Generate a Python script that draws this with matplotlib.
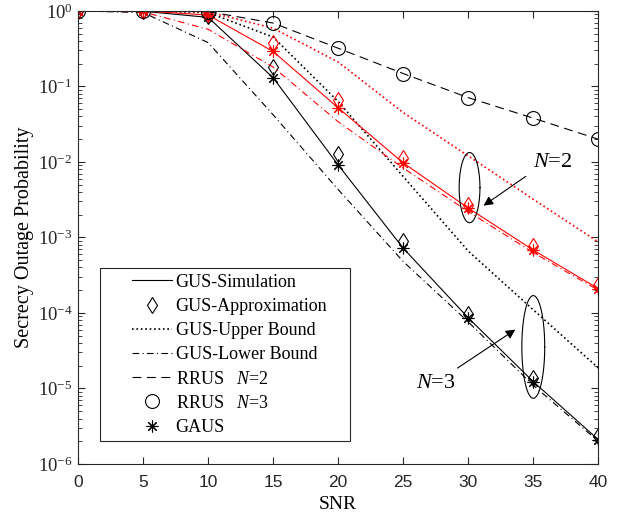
import numpy as np
import matplotlib
matplotlib.use('Agg')
import matplotlib.pyplot as plt
from matplotlib.lines import Line2D
from matplotlib.patches import Rectangle

plt.rcParams['font.family'] = 'Liberation Serif'
plt.rcParams['mathtext.fontset'] = 'custom'
plt.rcParams['mathtext.rm'] = 'Liberation Sans'
plt.rcParams['mathtext.it'] = 'Liberation Serif:italic'

snr = [0, 5, 10, 15, 20, 25, 30, 35, 40]

# N=3 (black)
sim3 = [1.0, 0.99, 0.82, 0.13, 0.0091, 7.2e-4, 8.6e-5, 1.23e-5, 2.1e-6]
approx3 = [1.0, 0.99, 0.85, 0.18, 0.0128, 8.9e-4, 9.7e-5, 1.38e-5, 2.35e-6]
upper3 = [1.0, 1.0, 0.95, 0.45, 0.063, 0.0064, 6.6e-4, 1.1e-4, 1.87e-5]
lower3 = [1.0, 0.95, 0.38, 0.042, 0.0043, 4.8e-4, 7.6e-5, 1.1e-5, 2.0e-6]

# N=2 (red)
sim2 = [1.0, 1.0, 0.88, 0.29, 0.052, 0.0097, 0.00245, 6.8e-4, 2.1e-4]
approx2 = [1.0, 1.0, 0.9, 0.38, 0.066, 0.0113, 0.0027, 7.7e-4, 2.35e-4]
upper2 = [1.0, 1.0, 0.97, 0.59, 0.21, 0.045, 0.012, 0.0032, 8.7e-4]
lower2 = [1.0, 0.97, 0.57, 0.18, 0.034, 0.0083, 0.0022, 6.3e-4, 2.0e-4]

rrus = [1.0, 1.0, 0.98, 0.69, 0.32, 0.148, 0.071, 0.038, 0.020]

fig = plt.figure(figsize=(6.2, 5.19), dpi=100)
ax = fig.add_axes([0.126, 0.106, 0.839, 0.873])

ast = (8, 2, 0)
lw = 0.8
dmd = dict(ls='none', marker='d', ms=7.7, mfc='none', mew=0.8)
star = dict(ls='none', marker=ast, ms=8.5, mew=0.8)
circ = dict(ls='none', marker='o', ms=10, mfc='none', mec='black', mew=0.8)
dashdot = (6, 3, 1, 3)
for col, sim, apx, up, lo in [('black', sim3, approx3, upper3, lower3),
                              ('red', sim2, approx2, upper2, lower2)]:
    ax.semilogy(snr, sim, '-', color=col, lw=lw)
    ax.semilogy(snr, up, ':', color=col, lw=1.2)
    ax.semilogy(snr, lo, '-.', color=col, lw=lw, dashes=dashdot)
    ax.semilogy(snr, apx, mec=col, **dmd)
    ax.semilogy(snr, sim, color=col, **star)

ax.semilogy(snr, rrus, '--', color='black', lw=lw, dashes=(8, 5))
ax.semilogy(snr, rrus, **circ)

# annotation ellipses
t = np.linspace(0, 2 * np.pi, 200)
for cx, cy, a, b in [(30.1, -2.34, 0.8, 0.465), (35.0, -4.45, 0.88, 0.68)]:
    ax.plot(cx + a * np.cos(t), 10 ** (cy + b * np.sin(t)), color='black', lw=0.8)

ax.annotate('', xy=(31.0, 10 ** -2.60), xytext=(34.6, 10 ** -2.17),
            arrowprops=dict(arrowstyle='-|>', color='black', lw=0.8, mutation_scale=14))
ax.text(36.5, 10 ** -2.01, '$N$=2', fontsize=16, ha='center', va='center')
ax.annotate('', xy=(33.8, 10 ** -4.2), xytext=(29.0, 10 ** -4.75),
            arrowprops=dict(arrowstyle='-|>', color='black', lw=0.8, mutation_scale=14))
ax.text(27.5, 10 ** -4.94, '$N$=3', fontsize=16, ha='center', va='center')

ax.set_xlim(0, 40)
ax.set_ylim(1e-6, 1)
ax.set_xticks(range(0, 41, 5))
ax.tick_params(which='both', direction='in', top=True, right=True, colors='#262626')
ax.tick_params(which='major', length=5)
ax.tick_params(which='minor', length=3)
ax.tick_params(axis='x', labelsize=12.5, pad=8)
ax.tick_params(axis='y', labelsize=13.5, pad=4)
for lab in ax.get_xticklabels():
    lab.set_family('Liberation Sans')
for s in ax.spines.values():
    s.set_color('#262626')
    s.set_linewidth(0.8)

ax.set_xlabel('SNR', fontsize=14, labelpad=4)
ax.set_ylabel('Secrecy Outage Probability', fontsize=14.5, labelpad=3)

# legend frame drawn separately (MATLAB-style padding)
ax.add_patch(Rectangle((0.042, 0.051), 0.481, 0.382, transform=ax.transAxes,
                       facecolor='white', edgecolor='#262626', lw=0.8, zorder=4))
handles = [
    Line2D([], [], color='black', ls='-', lw=lw),
    Line2D([], [], mec='black', **dmd),
    Line2D([], [], color='black', ls=':', lw=1.2),
    Line2D([], [], color='black', ls='-.', lw=lw, dashes=dashdot),
    Line2D([], [], color='black', ls='--', lw=lw, dashes=(8, 5)),
    Line2D([], [], **circ),
    Line2D([], [], color='black', **star),
]
labels = ['GUS-Simulation', 'GUS-Approximation', 'GUS-Upper Bound', 'GUS-Lower Bound',
          'RRUS   $N$=2', 'RRUS   $N$=3', 'GAUS']
leg = ax.legend(handles, labels, loc='upper left', bbox_to_anchor=(0.104, 0.42),
                fontsize=13, handlelength=2.2, handletextpad=0.2, labelspacing=0.4,
                frameon=False, borderpad=0, borderaxespad=0)
leg.set_zorder(5)

fig.savefig('out.png', dpi=100)
